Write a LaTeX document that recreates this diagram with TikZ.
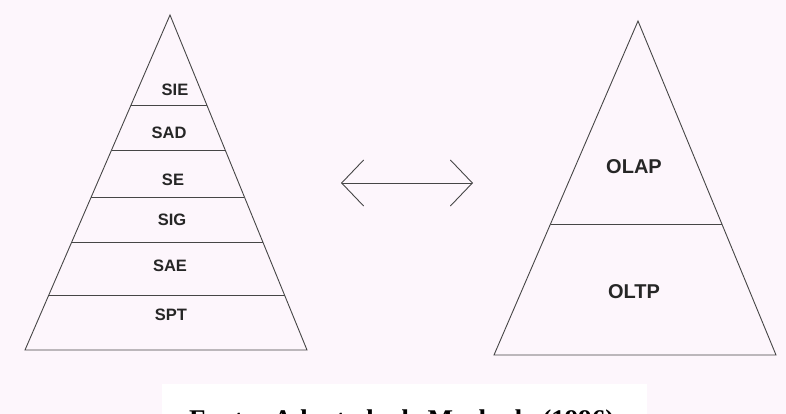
\documentclass[tikz,border=0pt]{standalone}
\usepackage{fontspec}
\setmainfont{Liberation Serif}
\newfontfamily\labelfont{Liberation Sans}
\usetikzlibrary{arrows.meta}
\definecolor{bgpink}{RGB}{253,246,252}
\definecolor{edgegray}{RGB}{70,70,70}
\tikzset{
  edge/.style={draw=edgegray, line width=0.9pt},
  layer/.style={font=\labelfont\bfseries\fontsize{16.5}{16.5}\selectfont, text=black!85, inner sep=0pt},
  biglayer/.style={font=\labelfont\bfseries\fontsize{20}{20}\selectfont, text=black!85, inner sep=0pt},
  barb/.tip={Straight Barb[length=22pt,width=46pt]}
}
\begin{document}
\begin{tikzpicture}[x=1pt,y=-1pt]
  \useasboundingbox (0,0) rectangle (786,414);
  \fill[bgpink] (0,0) rectangle (786,414);
  \fill[white] (162,384) rectangle (647,414);

  % left pyramid
  \coordinate (la) at (170,15); \coordinate (lbl) at (25,350);
  \coordinate (lbr) at (307,350);
  \draw[edge] (la) -- (lbl) -- (lbr) -- cycle;
  \draw[edge] (131.0,105) -- (206.8,105); \draw[edge] (111.6,150) --
  (225.2,150); \draw[edge] (91.2,197) -- (244.4,197); \draw[edge]
  (71.7,242) -- (262.8,242); \draw[edge] (48.8,295) -- (284.5,295);
  \node[layer] (sie) at (175,90) {SIE}; \node[layer] (sad) at (169,133)
  {SAD}; \node[layer] (se) at (173,180) {SE}; \node[layer] (sig) at
  (172,220) {SIG}; \node[layer] (sae) at (170,266) {SAE}; \node[layer]
  (spt) at (171,315) {SPT};

  % arrow (middle)
  \coordinate (al) at (341,183); \coordinate (ar) at (473,183);
  \draw[edge, barb-barb] (al) -- (ar);

  % right pyramid
  \coordinate (ra) at (638,21); \coordinate (rbl) at (494,355);
  \coordinate (rbr) at (776,355);
  \draw[edge] (ra) -- (rbl) -- (rbr) -- cycle;
  \draw[edge] (550.5,224) -- (721.9,224);
  \node[biglayer] (olap) at (634,167) {OLAP}; \node[biglayer] (oltp) at
  (634,292) {OLTP};

  % caption (cut at the bottom)
  \node[anchor=base west, inner sep=0pt,
  font=\bfseries\fontsize{27}{27}\selectfont] (fonte) at (189,428)
  {Fonte: Adaptado de Machado (1996)};
\end{tikzpicture}
\end{document}
